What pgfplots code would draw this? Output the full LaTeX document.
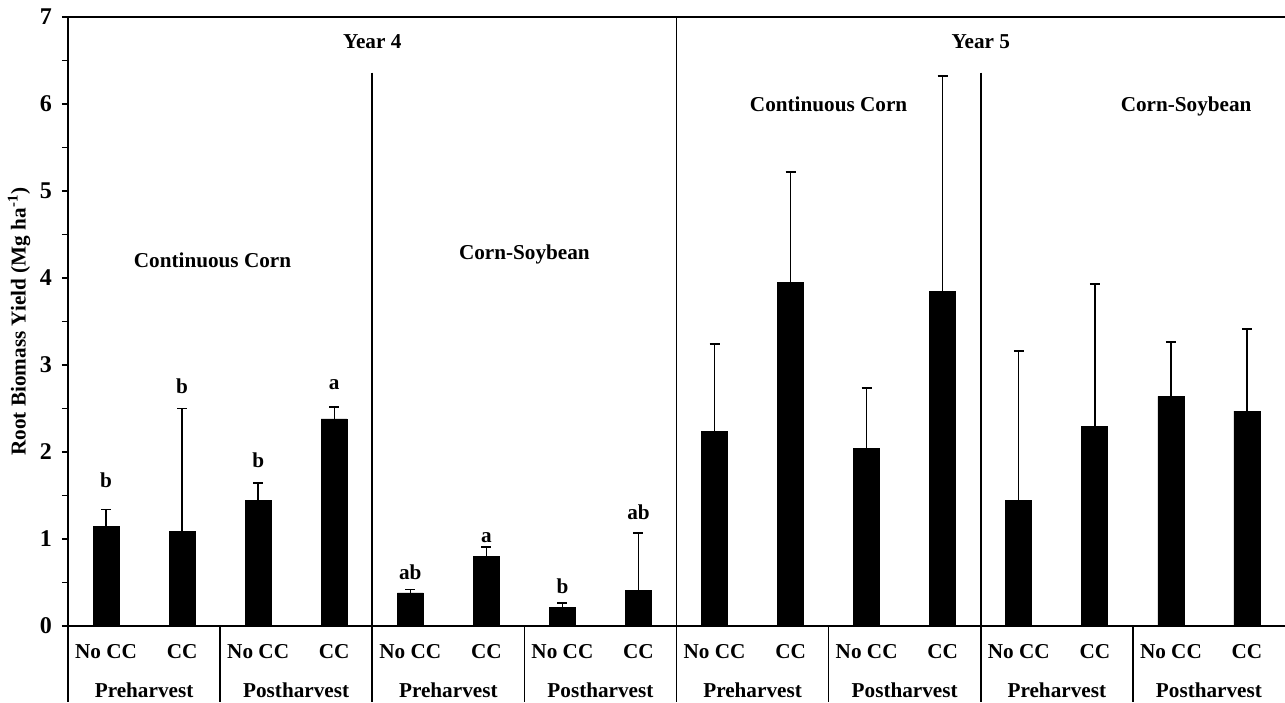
\documentclass[border=0pt]{standalone}
\usepackage{pgfplots}
\pgfplotsset{compat=1.18}
\usepackage{pgfplotstable}
\usepackage{fontspec}
\setmainfont{Liberation Serif}

\pgfplotstableread{
x  y     err
0  1.14  0.20
1  1.09  1.41
2  1.44  0.20
3  2.38  0.14
4  0.38  0.04
5  0.80  0.11
6  0.21  0.05
7  0.41  0.66
8  2.24  1.00
9  3.95  1.27
10 2.04  0.70
11 3.85  2.47
12 1.44  1.72
13 2.29  1.64
14 2.64  0.62
15 2.47  0.94
}\roots

\tikzset{lbl/.style={font=\fontsize{10.6}{12}\selectfont\bfseries}}

\begin{document}
\begin{tikzpicture}[font=\bfseries]
\begin{axis}[
  scale only axis,
  width=608.5pt, height=304.5pt,
  xmin=-0.5, xmax=15.5,
  ymin=0, ymax=7,
  axis x line*=bottom, axis y line*=left,
  axis line style={black, line width=0.8pt},
  xtick=\empty,
  ytick={0,1,...,7},
  minor ytick={0.5,1.5,...,6.5},
  tick align=outside,
  major tick length=3pt, minor tick length=3pt,
  tick style={black, line width=0.7pt},
  yticklabel style={font=\fontsize{12}{12}\selectfont\bfseries, xshift=-1.5pt},
  /pgf/number format/assume math mode=true,
  ylabel={Root Biomass Yield (Mg ha\textsuperscript{-1})},
  ylabel style={font=\fontsize{10.6}{12}\selectfont\bfseries, yshift=-2pt},
  clip=false,
]
\addplot[ybar, bar width=13pt, fill=black, draw=black,
  error bars/.cd, y dir=plus, y explicit,
  error bar style={black, line width=0.7pt},
  error mark options={black, rotate=90, mark size=2.5pt, line width=0.9pt}]
  table[x=x, y=y, y error=err] {\roots};

% top frame and separators
\draw[line width=0.8pt] (rel axis cs:0,1) -- (rel axis cs:1,1);
\draw[line width=0.8pt] (axis cs:-0.5,0) -- ([yshift=-38pt]axis cs:-0.5,0);
\draw[line width=0.8pt] (axis cs:7.5,7) -- ([yshift=-38pt]axis cs:7.5,0);
\pgfplotsinvokeforeach{3.5,11.5}{
  \draw[line width=0.8pt] (axis cs:#1,6.36) -- ([yshift=-38pt]axis cs:#1,0);
}
\pgfplotsinvokeforeach{1.5,5.5,9.5,13.5}{
  \draw[line width=0.8pt] (axis cs:#1,0) -- ([yshift=-38pt]axis cs:#1,0);
}

% x labels
\pgfplotsinvokeforeach{0,2,4,6,8,10,12,14}{
  \node[lbl] at ([yshift=-13pt]axis cs:#1,0) {No CC};
}
\pgfplotsinvokeforeach{1,3,5,7,9,11,13,15}{
  \node[lbl] at ([yshift=-13pt]axis cs:#1,0) {CC};
}
\pgfplotsinvokeforeach{0.5,4.5,8.5,12.5}{
  \node[lbl] at ([yshift=-32pt]axis cs:#1,0) {Preharvest};
}
\pgfplotsinvokeforeach{2.5,6.5,10.5,14.5}{
  \node[lbl] at ([yshift=-32pt]axis cs:#1,0) {Postharvest};
}

% group titles
\node[lbl] at (axis cs:3.5,6.72) {Year 4};
\node[lbl] at (axis cs:11.5,6.72) {Year 5};
\node[lbl] at (axis cs:1.4,4.2) {Continuous Corn};
\node[lbl] at (axis cs:5.5,4.27) {Corn-Soybean};
\node[lbl] at (axis cs:9.5,6.0) {Continuous Corn};
\node[lbl] at (axis cs:14.2,5.97) {Corn-Soybean};

% significance letters
\node[lbl] at (axis cs:0,1.67) {b};
\node[lbl] at (axis cs:1,2.76) {b};
\node[lbl] at (axis cs:2,1.90) {b};
\node[lbl] at (axis cs:3,2.77) {a};
\node[lbl] at (axis cs:4,0.62) {ab};
\node[lbl] at (axis cs:5,1.02) {a};
\node[lbl] at (axis cs:6,0.46) {b};
\node[lbl] at (axis cs:7,1.31) {ab};

\coordinate (bl) at (rel axis cs:0,0);
\coordinate (tr) at (rel axis cs:1,1);
\end{axis}
\pgfresetboundingbox
\path ([shift={(-34pt,-38pt)}]bl) rectangle ([shift={(0pt,8.5pt)}]tr);
\end{tikzpicture}
\end{document}
